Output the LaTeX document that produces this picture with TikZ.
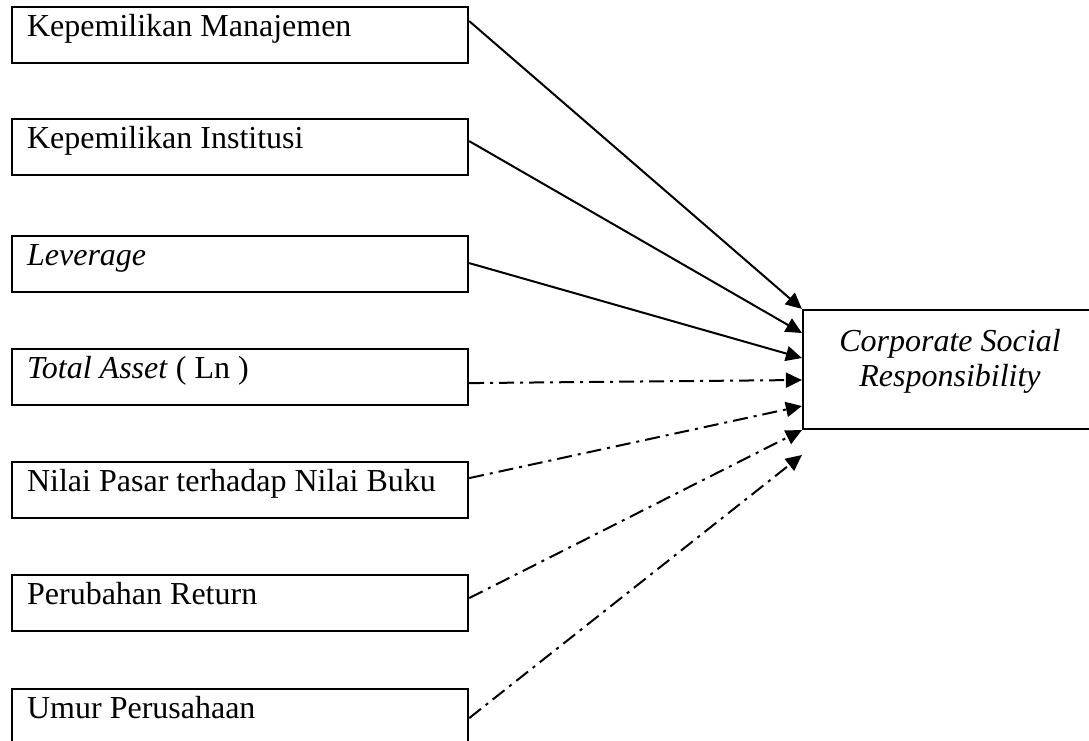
\documentclass[tikz,border=0pt]{standalone}
\usepackage{fontspec}
\setmainfont{Liberation Serif}
\usetikzlibrary{arrows.meta}

\begin{document}
\begin{tikzpicture}[x=1pt,y=-1pt,
	varbox/.style={draw,line width=2.2pt,anchor=north west,text width=426pt,align=flush left,inner xsep=15pt,inner ysep=3.5pt,text height=25.5pt,text depth=23.5pt,font=\fontsize{32}{38}\selectfont},
	csrbox/.style={draw,line width=2.2pt,minimum width=294pt,minimum height=119pt},
	csrtext/.style={align=center,font=\fontsize{32}{35}\selectfont\itshape},
	solidarrow/.style={line width=2pt,-{Triangle[length=16pt,width=15pt]}},
	dotarrow/.style={solidarrow,dash pattern=on 15pt off 6pt on 3pt off 6pt}]
	\useasboundingbox (0,0) rectangle (1089,741);
	% Independent Variables %
	\node (manajemen) [varbox] at (11,6) {Kepemilikan Manajemen};
	\node (institusi) [varbox] at (11,118) {Kepemilikan Institusi};
	\node (leverage) [varbox] at (11,235) {\textit{Leverage}};
	\node (totalasset) [varbox] at (11,348) {\textit{Total Asset} ( Ln )};
	\node (nilaipasar) [varbox] at (11,461) {Nilai Pasar terhadap Nilai Buku};
	\node (return) [varbox] at (11,574) {Perubahan Return};
	\node (umur) [varbox] at (11,688) {Umur Perusahaan};
	% Dependent Variable %
	\node (csr) [csrbox] at (950,369.5) {};
	\node (csrlabel) [csrtext] at ([yshift=8pt]csr.center) {Corporate Social\\Responsibility};
	% Solid Arrows %
	\draw [solidarrow] ([yshift=14pt]manajemen.east) to (csr.north west);
	\draw [solidarrow] ([yshift=6pt]institusi.east) to ([yshift=36.5pt]csr.west);
	\draw [solidarrow] ([yshift=1pt]leverage.east) to ([yshift=11.5pt]csr.west);
	% Dash Dot Arrows %
	\draw [dotarrow] ([yshift=-6pt]totalasset.east) to ([yshift=-10.5pt]csr.west);
	\draw [dotarrow] ([yshift=12pt]nilaipasar.east) to ([yshift=-36.5pt]csr.west);
	\draw [dotarrow] ([yshift=5pt]return.east) to (csr.south west);
	\draw [dotarrow] ([yshift=-1pt]umur.east) to ([yshift=-85.5pt]csr.west);

\end{tikzpicture}
\end{document}
